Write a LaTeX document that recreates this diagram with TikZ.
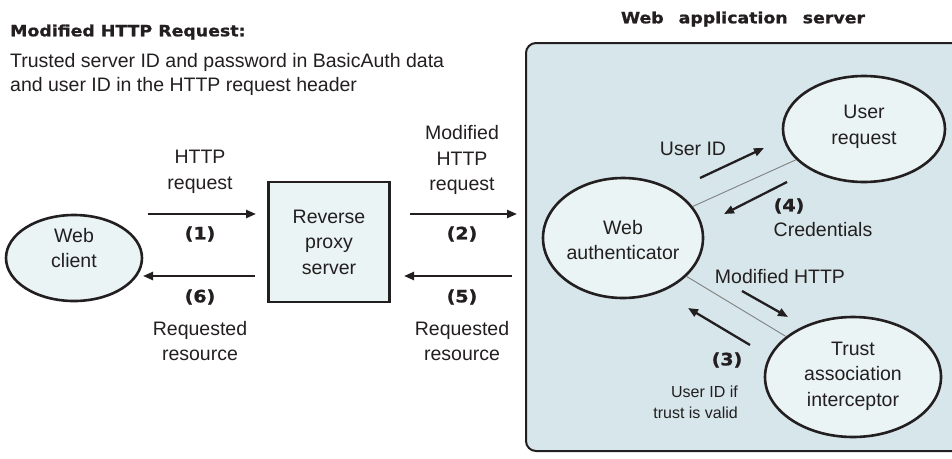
\documentclass[tikz,border=0pt]{standalone}
\usepackage{fontspec}
\setmainfont{Liberation Sans}
\newfontfamily\heavy{DejaVu Sans}[FakeStretch=1.12, BoldFeatures={FakeBold=1.2}]
\usetikzlibrary{arrows.meta,shapes.geometric}
\definecolor{serverbg}{RGB}{214,230,234}
\definecolor{nodefill}{RGB}{234,244,244}
\definecolor{ink}{RGB}{35,31,32}
\begin{document}
\begin{tikzpicture}[x=1pt,y=-1pt,
  lbl/.style={font=\fontsize{19.5}{25.5}\selectfont, align=center, text=ink, inner sep=0pt},
  small/.style={font=\fontsize{16}{21}\selectfont, align=right, text=ink, inner sep=0pt},
  num/.style={font=\heavy\bfseries\fontsize{17}{20}\selectfont, text=ink, inner sep=0pt},
  title/.style={font=\heavy\bfseries\fontsize{15.5}{18}\selectfont, text=ink, inner sep=0pt},
  ell/.style={ellipse, draw=ink, line width=2.6pt, fill=nodefill, inner sep=0pt},
  flow/.style={draw=ink, line width=2.3pt, -{Triangle[length=10pt,width=8pt]}},
  link/.style={draw=gray, line width=0.9pt}]
\useasboundingbox (0,0) rectangle (952,458);

% titles
\node[title, anchor=west] (reqtitle) at (10,32) {Modified HTTP Request:};
\node[lbl, anchor=base west] (req1) at (10,67) {Trusted server ID and password in BasicAuth data};
\node[lbl, anchor=base west] (req2) at (10,91) {and user ID in the HTTP request header};
\node[title] (wastitle) at (743,19) {Web\hspace{15pt}application\hspace{15pt}server};

% server area
\node[draw=ink, line width=2pt, fill=serverbg, rounded corners=10pt,
      minimum width=450pt, minimum height=408pt, anchor=north west] (was) at (525,42) {};

% left side
\node[ell, minimum width=136pt, minimum height=86pt] (client) at (74,258) {};
\node[lbl] (clientlbl) at (74,248) {Web\\client};
\node[draw=ink, line width=2.6pt, fill=nodefill, minimum width=121pt, minimum height=120pt, inner sep=0pt] (proxy) at (329,242) {};
\node[lbl] (proxylbl) at (proxy) {Reverse\\proxy\\server};

\coordinate (a1s) at (148,214); \coordinate (a1e) at (256,214);
\coordinate (a6s) at (255,276); \coordinate (a6e) at (143,276);
\coordinate (a2s) at (410,214); \coordinate (a2e) at (517,214);
\coordinate (a5s) at (512,276); \coordinate (a5e) at (404,276);
\draw[flow] (a1s) -- (a1e);
\draw[flow] (a6s) -- (a6e);
\draw[flow] (a2s) -- (a2e);
\draw[flow] (a5s) -- (a5e);

\node[lbl] (l1) at (200,172) {HTTP\\request};
\node[num] (n1) at (200,234) {(1)};
\node[num] (n6) at (200,297) {(6)};
\node[lbl] (l6) at (200,341) {Requested\\resource};
\node[lbl] (l2) at (462,160) {Modified\\HTTP\\request};
\node[num] (n2) at (462,234) {(2)};
\node[num] (n5) at (462,297) {(5)};
\node[lbl] (l5) at (462,341) {Requested\\resource};

% right side
\node[ell, minimum width=162pt, minimum height=106pt] (userreq) at (864,129) {};
\node[lbl] (userreqlbl) at (864,127) {User\\request};
\node[ell, minimum width=160pt, minimum height=120pt] (auth) at (623,238) {};
\node[lbl] (authlbl) at (623,240) {Web\\authenticator};
\node[ell, minimum width=176pt, minimum height=120pt] (tai) at (853,377) {};
\node[lbl] (tailbl) at (853,376) {Trust\\association\\interceptor};

\draw[link] (auth) -- (userreq);
\draw[link] (auth) -- (tai);

\coordinate (uids) at (700,178); \coordinate (uide) at (764,148);
\coordinate (c4s) at (787,182); \coordinate (c4e) at (724,214);
\coordinate (mhs) at (742,291); \coordinate (mhe) at (788,317);
\coordinate (t3s) at (750,345); \coordinate (t3e) at (688,308);
\draw[flow] (uids) -- (uide);
\draw[flow] (c4s) -- (c4e);
\draw[flow] (mhs) -- (mhe);
\draw[flow] (t3s) -- (t3e);

\node[lbl] (uidlbl) at (693,149) {User ID};
\node[num] (n4) at (789,206) {(4)};
\node[lbl] (credlbl) at (823,230) {Credentials};
\node[lbl] (mhlbl) at (780,277) {Modified HTTP};
\node[num] (n3) at (727,360) {(3)};
\node[small, anchor=east] (validlbl) at (738,402) {User ID if\\trust is valid};
\end{tikzpicture}
\end{document}
